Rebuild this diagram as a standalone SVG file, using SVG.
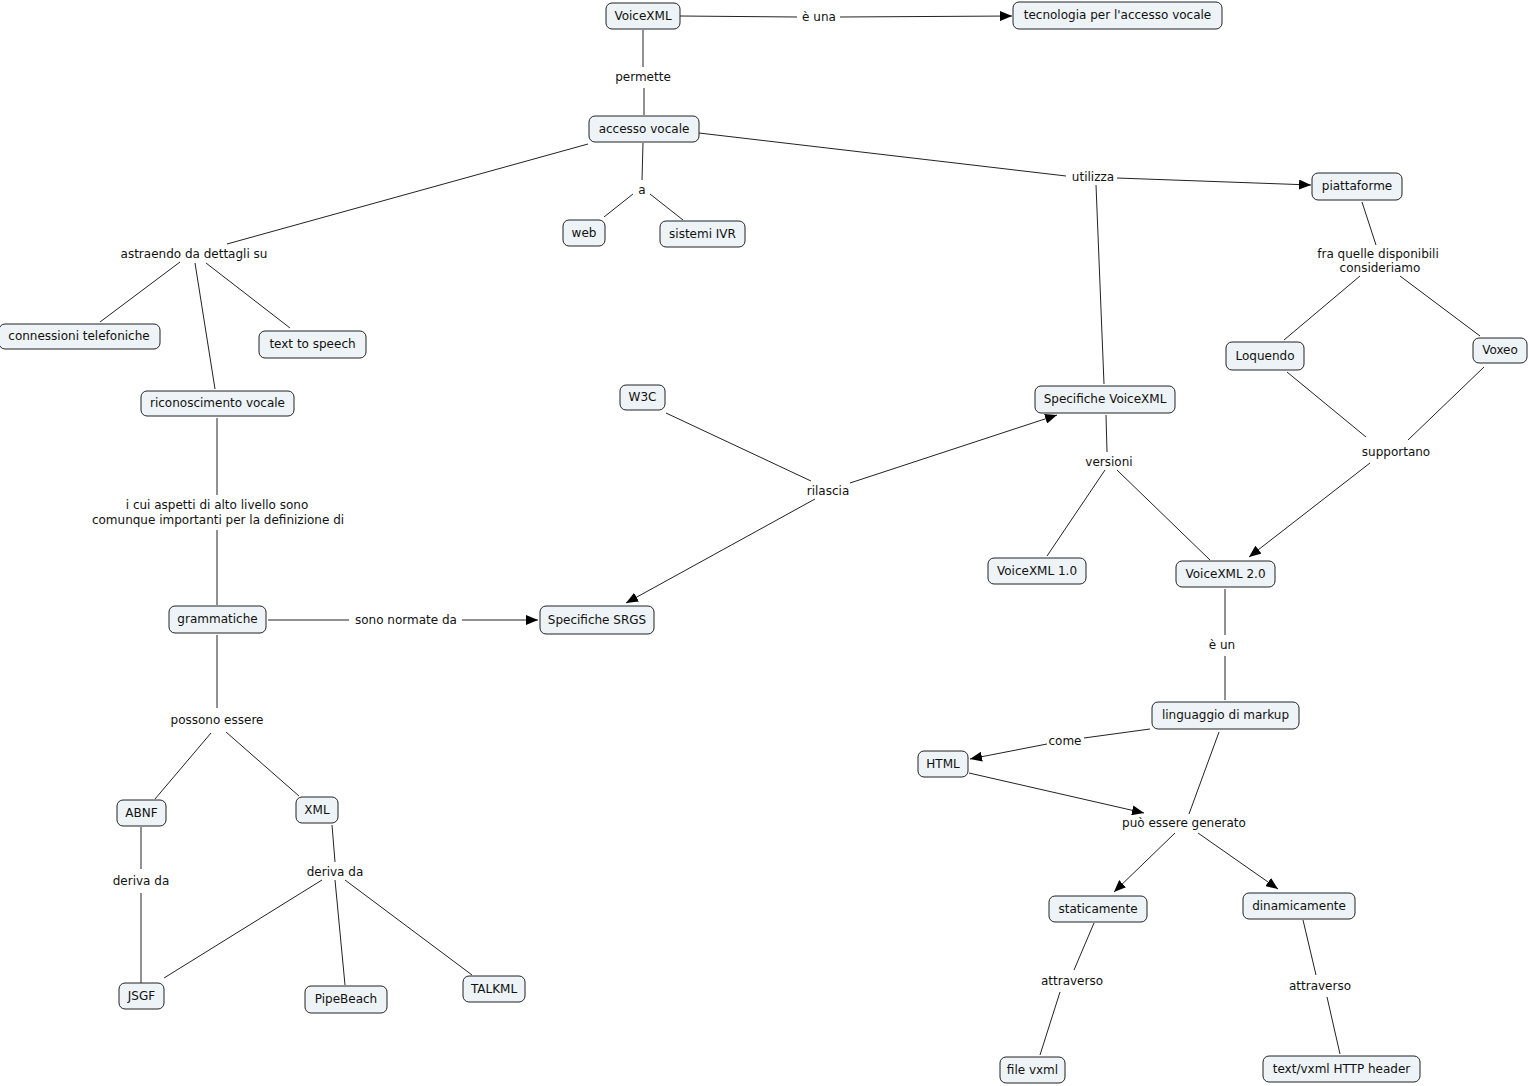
<svg xmlns="http://www.w3.org/2000/svg" width="1528" height="1086" viewBox="0 0 1528 1086">
<style>
.n rect{fill:#edf3f6;stroke:#222;stroke-width:1}
text{font-family:"DejaVu Sans","Liberation Sans",sans-serif;font-size:12px;fill:#111;text-anchor:middle}
.c line{stroke:#222;stroke-width:1;fill:none}
</style>
<defs>
<marker id="ar" viewBox="0 0 12 10" refX="12" refY="5" markerWidth="12" markerHeight="10" markerUnits="userSpaceOnUse" orient="auto">
<path d="M0,0 L12,5 L0,10 z" fill="#000"/>
</marker>
</defs>
<rect width="1528" height="1086" fill="#fff"/>
<g class="c" id="connectors">
<line x1="680" y1="16" x2="797" y2="17"/>
<line x1="840" y1="17" x2="1012" y2="16" marker-end="url(#ar)"/>
<line x1="643" y1="30" x2="643" y2="67"/>
<line x1="644" y1="88" x2="644" y2="115"/>
<line x1="699" y1="133" x2="1066" y2="176"/>
<line x1="1117" y1="178" x2="1311" y2="185" marker-end="url(#ar)"/>
<line x1="1096" y1="185" x2="1104" y2="384"/>
<line x1="643" y1="143" x2="642" y2="180"/>
<line x1="633" y1="194" x2="604" y2="217"/>
<line x1="650" y1="194" x2="683" y2="220"/>
<line x1="588" y1="144" x2="227" y2="244"/>
<line x1="180" y1="262" x2="100" y2="322"/>
<line x1="195" y1="263" x2="215" y2="389"/>
<line x1="206" y1="263" x2="290" y2="328"/>
<line x1="217" y1="418" x2="217" y2="495"/>
<line x1="217" y1="530" x2="217" y2="605"/>
<line x1="268" y1="620" x2="349" y2="620"/>
<line x1="462" y1="620" x2="538" y2="620" marker-end="url(#ar)"/>
<line x1="217" y1="635" x2="217" y2="708"/>
<line x1="211" y1="733" x2="155" y2="799"/>
<line x1="226" y1="732" x2="299" y2="796"/>
<line x1="141" y1="827" x2="141" y2="869"/>
<line x1="141" y1="893" x2="141" y2="983"/>
<line x1="332" y1="825" x2="335" y2="862"/>
<line x1="322" y1="880" x2="164" y2="978"/>
<line x1="335" y1="880" x2="345" y2="985"/>
<line x1="345" y1="880" x2="472" y2="975"/>
<line x1="666" y1="413" x2="811" y2="481"/>
<line x1="850" y1="483" x2="1057" y2="415" marker-end="url(#ar)"/>
<line x1="815" y1="499" x2="626" y2="603" marker-end="url(#ar)"/>
<line x1="1362" y1="202" x2="1376" y2="245"/>
<line x1="1360" y1="276" x2="1284" y2="340"/>
<line x1="1400" y1="276" x2="1480" y2="336"/>
<line x1="1287" y1="372" x2="1366" y2="437"/>
<line x1="1484" y1="367" x2="1408" y2="440"/>
<line x1="1370" y1="463" x2="1249" y2="557" marker-end="url(#ar)"/>
<line x1="1106" y1="415" x2="1107" y2="452"/>
<line x1="1105" y1="470" x2="1047" y2="556"/>
<line x1="1117" y1="470" x2="1210" y2="560"/>
<line x1="1225" y1="589" x2="1225" y2="635"/>
<line x1="1225" y1="656" x2="1225" y2="700"/>
<line x1="1150" y1="729" x2="1084" y2="738"/>
<line x1="1047" y1="744" x2="970" y2="759" marker-end="url(#ar)"/>
<line x1="1219" y1="732" x2="1189" y2="814"/>
<line x1="969" y1="773" x2="1144" y2="813" marker-end="url(#ar)"/>
<line x1="1175" y1="833" x2="1114" y2="892" marker-end="url(#ar)"/>
<line x1="1198" y1="833" x2="1278" y2="889" marker-end="url(#ar)"/>
<line x1="1094" y1="923" x2="1074" y2="970"/>
<line x1="1060" y1="992" x2="1040" y2="1055"/>
<line x1="1303" y1="920" x2="1316" y2="975"/>
<line x1="1327" y1="997" x2="1340" y2="1054"/>
</g>
<g id="labels">
<text x="819" y="21">è una</text>
<text x="643" y="81">permette</text>
<text x="642" y="194">a</text>
<text x="194" y="258">astraendo da dettagli su</text>
<text x="1093" y="181">utilizza</text>
<text x="1378" y="258">fra quelle disponibili</text>
<text x="1380" y="272">consideriamo</text>
<text x="1396" y="456">supportano</text>
<text x="1109" y="466">versioni</text>
<text x="828" y="495">rilascia</text>
<text x="217" y="509">i cui aspetti di alto livello sono</text>
<text x="218" y="524">comunque importanti per la definizione di</text>
<text x="406" y="624">sono normate da</text>
<text x="1222" y="649">è un</text>
<text x="1065" y="745">come</text>
<text x="1184" y="827">può essere generato</text>
<text x="217" y="724">possono essere</text>
<text x="141" y="885">deriva da</text>
<text x="335" y="876">deriva da</text>
<text x="1072" y="985">attraverso</text>
<text x="1320" y="990">attraverso</text>
</g>
<g class="n" id="n-voicexml"><rect x="606" y="3" width="74" height="26" rx="6"/><text x="643" y="20">VoiceXML</text></g>
<g class="n" id="n-tecnologia"><rect x="1013" y="2" width="209" height="27" rx="6"/><text x="1117.5" y="19">tecnologia per l'accesso vocale</text></g>
<g class="n" id="n-accesso"><rect x="589" y="116" width="110" height="26" rx="6"/><text x="644" y="133">accesso vocale</text></g>
<g class="n" id="n-web"><rect x="563" y="220" width="42" height="26" rx="6"/><text x="584" y="237">web</text></g>
<g class="n" id="n-ivr"><rect x="660" y="221" width="85" height="26" rx="6"/><text x="702.5" y="238">sistemi IVR</text></g>
<g class="n" id="n-connessioni"><rect x="-1" y="324" width="161" height="25" rx="6"/><text x="79" y="340">connessioni telefoniche</text></g>
<g class="n" id="n-tts"><rect x="259" y="331" width="107" height="27" rx="6"/><text x="312.5" y="348">text to speech</text></g>
<g class="n" id="n-ricon"><rect x="141" y="391" width="153" height="25" rx="6"/><text x="217.5" y="407">riconoscimento vocale</text></g>
<g class="n" id="n-w3c"><rect x="620" y="385" width="45" height="25" rx="6"/><text x="642.5" y="401">W3C</text></g>
<g class="n" id="n-specvxml"><rect x="1035" y="386" width="140" height="27" rx="6"/><text x="1105" y="403">Specifiche VoiceXML</text></g>
<g class="n" id="n-piatt"><rect x="1312" y="173" width="90" height="27" rx="6"/><text x="1357" y="190">piattaforme</text></g>
<g class="n" id="n-loquendo"><rect x="1226" y="342" width="78" height="28" rx="6"/><text x="1265" y="360">Loquendo</text></g>
<g class="n" id="n-voxeo"><rect x="1473" y="338" width="54" height="25" rx="6"/><text x="1500" y="354">Voxeo</text></g>
<g class="n" id="n-vx10"><rect x="988" y="558" width="98" height="26" rx="6"/><text x="1037" y="575">VoiceXML 1.0</text></g>
<g class="n" id="n-vx20"><rect x="1176" y="561" width="99" height="26" rx="6"/><text x="1225.5" y="578">VoiceXML 2.0</text></g>
<g class="n" id="n-ling"><rect x="1152" y="702" width="147" height="27" rx="6"/><text x="1225.5" y="719">linguaggio di markup</text></g>
<g class="n" id="n-html"><rect x="918" y="751" width="50" height="26" rx="6"/><text x="943" y="768">HTML</text></g>
<g class="n" id="n-stat"><rect x="1049" y="896" width="98" height="26" rx="6"/><text x="1098" y="913">staticamente</text></g>
<g class="n" id="n-din"><rect x="1243" y="893" width="112" height="26" rx="6"/><text x="1299" y="910">dinamicamente</text></g>
<g class="n" id="n-filevxml"><rect x="1000" y="1057" width="65" height="26" rx="6"/><text x="1032.5" y="1074">file vxml</text></g>
<g class="n" id="n-header"><rect x="1263" y="1056" width="157" height="26" rx="6"/><text x="1341.5" y="1073">text/vxml HTTP header</text></g>
<g class="n" id="n-gramm"><rect x="169" y="606" width="97" height="27" rx="6"/><text x="217.5" y="623">grammatiche</text></g>
<g class="n" id="n-srgs"><rect x="540" y="606" width="114" height="28" rx="6"/><text x="597" y="624">Specifiche SRGS</text></g>
<g class="n" id="n-abnf"><rect x="117" y="800" width="49" height="26" rx="6"/><text x="141.5" y="817">ABNF</text></g>
<g class="n" id="n-xml"><rect x="296" y="797" width="42" height="26" rx="6"/><text x="317" y="814">XML</text></g>
<g class="n" id="n-jsgf"><rect x="119" y="983" width="45" height="26" rx="6"/><text x="141.5" y="1000">JSGF</text></g>
<g class="n" id="n-pipe"><rect x="305" y="986" width="82" height="27" rx="6"/><text x="346" y="1003">PipeBeach</text></g>
<g class="n" id="n-talkml"><rect x="463" y="976" width="62" height="26" rx="6"/><text x="494" y="993">TALKML</text></g>
</svg>
